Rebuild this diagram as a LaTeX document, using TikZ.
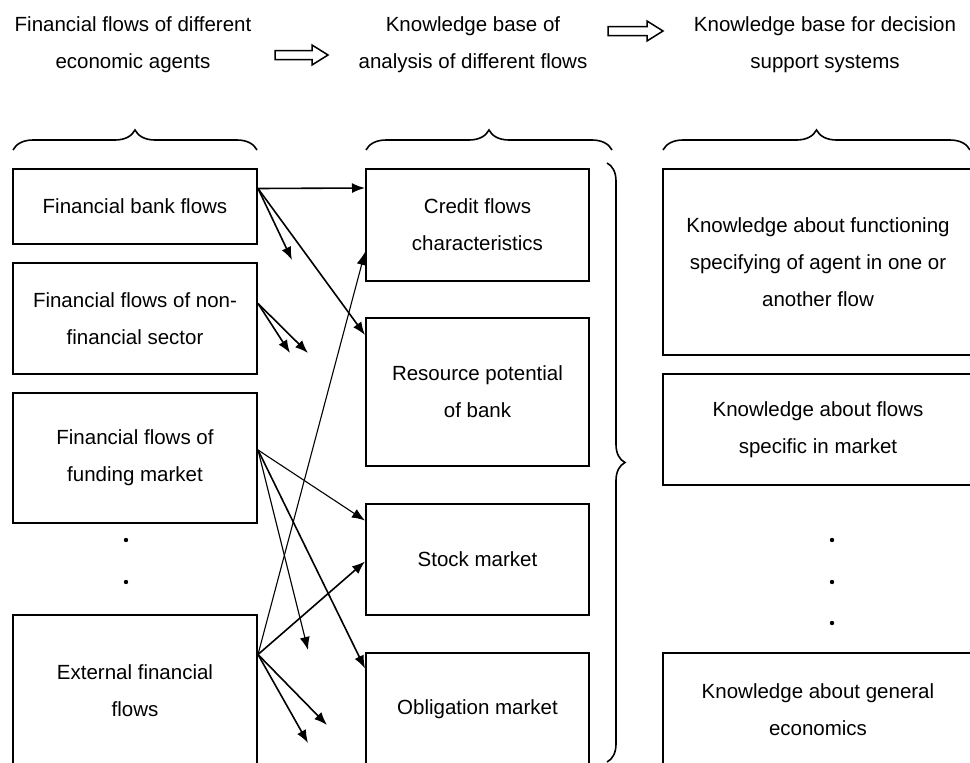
\documentclass[tikz,border=0pt]{standalone}
\usepackage{fontspec}
\setmainfont{Liberation Sans}
\usetikzlibrary{arrows.meta,decorations.pathreplacing}
\tikzstyle{box}=[draw, line width=2pt, rectangle, align=center, inner sep=0pt]
\tikzstyle{agentbox}=[box, minimum width=244pt]
\tikzstyle{basebox}=[box, minimum width=223pt]
\tikzstyle{dssbox}=[box, minimum width=310pt]
\tikzstyle{flow}=[-{Latex[length=13pt,width=10pt]}, line width=1.6pt]
\tikzstyle{thinflow}=[flow, line width=1.1pt]
\tikzstyle{hollow}=[draw, line width=1.5pt]
\tikzstyle{topbrace}=[decorate, decoration={brace, amplitude=20pt}, line width=1.6pt]
\tikzstyle{sidebrace}=[decorate, decoration={brace, amplitude=18pt}, line width=1.6pt]

\begin{document}
\begin{tikzpicture}[x=1pt, y=-1pt, font=\fontsize{20.5}{37}\selectfont]
\useasboundingbox (0,0) rectangle (970,763);
\clip (0,0) rectangle (970,763);
% Headings
    \node[align=center] (agents) at (133,45) {Financial flows of different\\economic agents};
    \node[align=center] (analysis) at (473,45) {Knowledge base of\\analysis of different flows};
    \node[align=center] (support) at (825,45) {Knowledge base for decision\\support systems};
    \draw[hollow, shift={(275,55)}] (0,-4.5) -- (37,-4.5) -- (37,-10) -- (53,0) -- (37,10) -- (37,4.5) -- (0,4.5) -- cycle;
    \draw[hollow, shift={(608,31)}] (0,-4.5) -- (39,-4.5) -- (39,-10) -- (55,0) -- (39,10) -- (39,4.5) -- (0,4.5) -- cycle;
% Braces
    \draw[topbrace] (13,150) -- (257,150);
    \draw[topbrace] (366,150) -- (612,150);
    \draw[topbrace] (663,150) -- (970,150);
    \draw[sidebrace] (607,163) -- (607,762);
% Flows of economic agents
    \node[agentbox, minimum height=75pt] (bank) at (135,206.5) {Financial bank flows};
    \node[agentbox, minimum height=111pt] (nonfin) at (135,318.5) {Financial flows of non-\\financial sector};
    \node[agentbox, minimum height=130pt] (funding) at (135,458) {Financial flows of\\funding market};
    \node[agentbox, minimum height=151pt] (external) at (135,690.5) {External financial\\flows};
    \fill (126,540) circle (2.2);
    \fill (126,582) circle (2.2);
% Knowledge base of analysis
    \node[basebox, minimum height=112pt] (credit) at (477.5,225) {Credit flows\\characteristics};
    \node[basebox, minimum height=148pt] (resource) at (477.5,392) {Resource potential\\of bank};
    \node[basebox, minimum height=111pt] (stock) at (477.5,559.5) {Stock market};
    \node[basebox, minimum height=113pt] (obligation) at (477.5,709.5) {Obligation market};
% Knowledge base for decision support
    \node[dssbox, minimum height=186pt] (functioning) at (818,262) {Knowledge about functioning\\specifying of agent in one or\\another flow};
    \node[dssbox, minimum height=111pt] (specific) at (818,429.5) {Knowledge about flows\\specific in market};
    \node[dssbox, minimum height=113pt] (general) at (818,709.5) {Knowledge about general\\economics};
    \fill (832,540) circle (2.2);
    \fill (832,582) circle (2.2);
    \fill (832,623) circle (2.2);
% Loose arrow ends
    \coordinate (bank tip) at (292,260);
    \coordinate (nonfin tip a) at (290,353);
    \coordinate (nonfin tip b) at (308,353);
    \coordinate (funding tip) at (308,650);
    \coordinate (external tip a) at (327,725);
    \coordinate (external tip b) at (308,743);
% Connectors
    \draw[flow] ([yshift=18pt]bank.east) -- ([yshift=37pt]credit.west);
    \draw[flow] ([yshift=18pt]bank.east) -- (bank tip);
    \draw[flow] ([yshift=18pt]bank.east) -- ([yshift=57pt]resource.west);
    \draw[flow] ([yshift=15pt]nonfin.east) -- (nonfin tip a);
    \draw[flow] ([yshift=15pt]nonfin.east) -- (nonfin tip b);
    \draw[thinflow] ([yshift=8pt]funding.east) -- ([yshift=39pt]stock.west);
    \draw[thinflow] ([yshift=8pt]funding.east) -- (funding tip);
    \draw[flow] ([yshift=8pt]funding.east) -- ([yshift=41pt]obligation.west);
    \draw[thinflow] ([yshift=36pt]external.east) -- ([yshift=-27pt]credit.west);
    \draw[flow] ([yshift=36pt]external.east) -- ([yshift=-2pt]stock.west);
    \draw[flow] ([yshift=36pt]external.east) -- (external tip a);
    \draw[flow] ([yshift=36pt]external.east) -- (external tip b);
\end{tikzpicture}
\end{document}
